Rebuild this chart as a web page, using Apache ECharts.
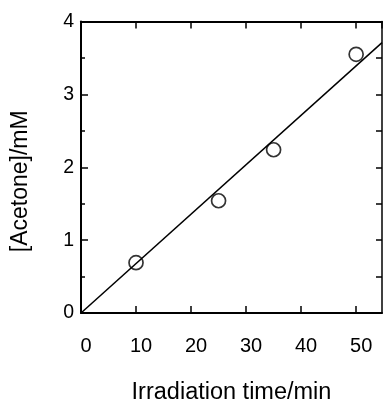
<!DOCTYPE html>
<html>
<head>
<meta charset="utf-8">
<script src="https://cdn.jsdelivr.net/npm/echarts@6/dist/echarts.min.js"></script>
<style>
html,body{margin:0;padding:0;background:#fff;}
#c{width:383px;height:402px;}
</style>
</head>
<body>
<div id="c"></div>
<script>
const timeMin = [10, 25, 35, 50];
const acetone = [0.69, 1.54, 2.24, 3.55];
const fitX = [0, 54.7];
const fitY = [0, 3.71];
const xTicks = [0, 10, 20, 30, 40, 50];
const yTicks = [0, 1, 2, 3, 4];

const FONT = 'Liberation Sans, Arial, sans-serif';
const X_MIN = 0, X_MAX = 54.7, Y_MIN = 0, Y_MAX = 4;

const chart = echarts.init(document.getElementById('c'), null, {renderer: 'canvas'});
const axisLine = {show: true, onZero: false, lineStyle: {color: '#000', width: 2}};
chart.setOption({
  animation: false,
  backgroundColor: '#fff',
  grid: {left: 81, top: 21.5, right: 1, bottom: 89, containLabel: false, outerBoundsMode: 'none'},
  xAxis: [
    {
      type: 'value', min: X_MIN, max: X_MAX, interval: 10, position: 'bottom',
      name: 'Irradiation time/min', nameLocation: 'middle', nameGap: 68,
      nameTextStyle: {fontFamily: FONT, fontSize: 23.5, color: '#000'},
      axisLine: axisLine,
      axisTick: {show: true, inside: true, length: 7, lineStyle: {color: '#000', width: 1.5}},
      axisLabel: {fontFamily: FONT, fontSize: 20, color: '#000', margin: 23, padding: [0, 0, 0, 10],
        showMaxLabel: false,
        formatter: v => xTicks.includes(v) ? String(v) : ''},
      splitLine: {show: false}
    },
    {
      type: 'value', min: X_MIN, max: X_MAX, interval: 10, position: 'top',
      axisLine: axisLine,
      axisTick: {show: true, inside: true, length: 7, lineStyle: {color: '#000', width: 1.5}},
      axisLabel: {show: false}, splitLine: {show: false}
    }
  ],
  yAxis: [
    {
      type: 'value', min: Y_MIN, max: Y_MAX, interval: 1, position: 'left',
      name: '[Acetone]/mM', nameLocation: 'middle', nameGap: 49,
      nameTextStyle: {fontFamily: FONT, fontSize: 23, color: '#000', padding: [0, 28, 0, 0]},
      axisLine: axisLine,
      axisTick: {show: true, inside: true, length: 7, lineStyle: {color: '#000', width: 1.5}},
      minorTick: {show: true, splitNumber: 2, length: 4, lineStyle: {color: '#000', width: 1.5}},
      axisLabel: {fontFamily: FONT, fontSize: 19.5, color: '#000', margin: 7, padding: [0, 0, 6, 0],
        formatter: v => yTicks.includes(v) ? String(v) : ''},
      splitLine: {show: false}
    },
    {
      type: 'value', min: Y_MIN, max: Y_MAX, interval: 0.5, position: 'right',
      axisLine: {show: true, onZero: false, lineStyle: {color: '#000', width: 1.5}},
      axisTick: {show: true, inside: true, length: 6, lineStyle: {color: '#000', width: 1.5}},
      axisLabel: {show: false}, splitLine: {show: false}
    }
  ],
  series: [
    {
      type: 'line', xAxisIndex: 0, yAxisIndex: 0,
      data: fitX.map((x, i) => [x, fitY[i]]),
      showSymbol: false, symbol: 'none',
      lineStyle: {color: '#000', width: 1.5},
      clip: true, silent: true
    },
    {
      type: 'scatter', xAxisIndex: 0, yAxisIndex: 0,
      data: timeMin.map((x, i) => [x, acetone[i]]),
      symbol: 'circle', symbolSize: 14,
      itemStyle: {color: 'rgba(0,0,0,0)', borderColor: '#000', borderWidth: 1.7}
    }
  ]
});
</script>
</body>
</html>
